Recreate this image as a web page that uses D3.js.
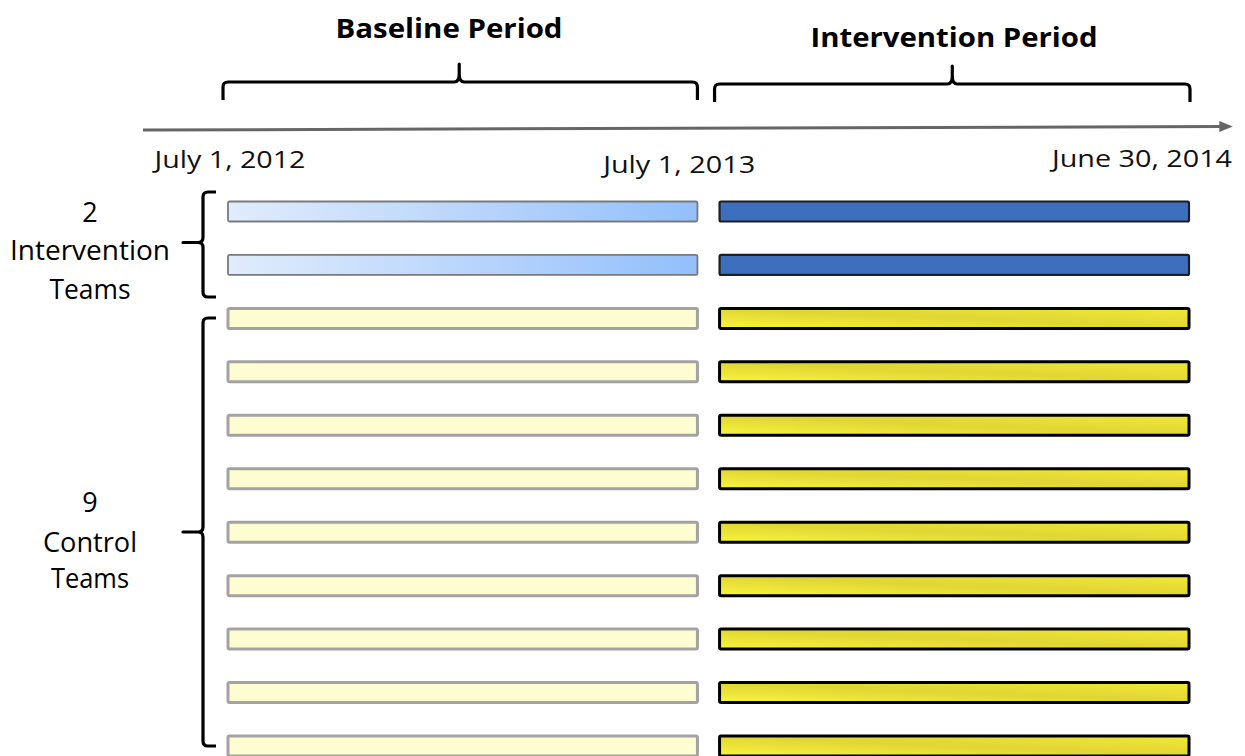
<!DOCTYPE html>
<html><head><meta charset="utf-8">
<script src="https://cdn.jsdelivr.net/npm/d3@7"></script>
<style>html,body{margin:0;padding:0;background:#fff;overflow:hidden}</style>
</head><body>
<svg id="chart" width="1245" height="756"></svg>
<script>
// ---- data ----
const periods = ["Baseline Period", "Intervention Period"];
const periodStart = ["2012-07-01", "2013-07-01"];
const periodEnd = ["2013-06-30", "2014-06-30"];
const tickDates = ["2012-07-01", "2013-07-01", "2014-06-30"];
const tickLabels = ["July 1, 2012", "July 1, 2013", "June 30, 2014"];
const teams = ["I1","I2","C1","C2","C3","C4","C5","C6","C7","C8","C9"];
const teamGroup = ["intervention","intervention","control","control","control","control","control","control","control","control","control"];
const groupNames = ["intervention", "control"];
const groupLabels = [["2","Intervention","Teams"], ["9","Control","Teams"]];

// ---- layout constants ----
const svg = d3.select("#chart");
const parse = d3.utcParse("%Y-%m-%d");
const x = d3.scaleBand().domain(periods).range([228, 1189]).paddingInner(0.045);
const t = d3.scaleUtc().domain([parse(tickDates[0]), parse(tickDates[2])]).range([228, 1189]);
const y = d3.scalePoint().domain(teams).range([211.5, 746]);
const barH = 20;

// ---- gradients ----
const defs = svg.append("defs");
const gBlue = defs.append("linearGradient").attr("id","gBlue").attr("x1","0").attr("x2","1").attr("y1","0").attr("y2","0");
gBlue.append("stop").attr("offset","0").attr("stop-color","#e1ecfc");
gBlue.append("stop").attr("offset","1").attr("stop-color","#93bffb");
const gYel = defs.append("linearGradient").attr("id","gYel").attr("x1","0").attr("x2","1").attr("y1","1").attr("y2","0");
gYel.append("stop").attr("offset","0").attr("stop-color","#f8f43c");
gYel.append("stop").attr("offset","0.5").attr("stop-color","#e0d634");
gYel.append("stop").attr("offset","1").attr("stop-color","#f1e839");
defs.append("marker").attr("id","arrow").attr("viewBox","0 0 10 10").attr("refX","2").attr("refY","5")
  .attr("markerWidth","4.5").attr("markerHeight","4.5").attr("orient","auto").attr("markerUnits","strokeWidth")
  .append("path").attr("d","M0,1 L10,5 L0,9 Z").attr("fill","#666");

// ---- axis arrow ----
svg.append("line").attr("x1",143).attr("y1",130).attr("x2",1222).attr("y2",126.5)
  .attr("stroke","#666").attr("stroke-width",3).attr("marker-end","url(#arrow)");

// ---- tick labels ----
const tickDx = [2, -30, -47];
const tickBase = [168, 173, 167];
const tickW = [151, 152, 180];
svg.selectAll("text.tick").data(tickLabels).join("text").attr("class","tick")
  .attr("x",(d,i)=>t(parse(tickDates[i]))+tickDx[i]).attr("y",(d,i)=>tickBase[i])
  .attr("text-anchor","middle").attr("font-family","Open Sans").attr("font-size",24)
  .attr("textLength",(d,i)=>tickW[i]).attr("lengthAdjust","spacingAndGlyphs")
  .attr("fill","#111").text(d=>d);

// ---- period braces and titles ----
const braceY = [82, 84];
const titleY = [38, 47];
const titleW = [227, 287];
const titleX = [449, 954];
periods.forEach((p,i)=>{
  const x0 = x(p) - 5, x1 = x(p) + x.bandwidth() + (i===1 ? 1 : 0);
  const xm = (x0 + x1) / 2 - (i===0 ? 1 : 0);
  const by = braceY[i];
  const r = 5;
  const path = `M${x0},${by+18} L${x0},${by+r} Q${x0},${by} ${x0+r},${by} L${xm-5},${by} Q${xm},${by} ${xm},${by-8} L${xm},${by-18} L${xm},${by-8} Q${xm},${by} ${xm+5},${by} L${x1-r},${by} Q${x1},${by} ${x1},${by+r} L${x1},${by+18}`;
  svg.append("path").attr("d",path).attr("fill","none").attr("stroke","#000").attr("stroke-width",3.2).attr("stroke-linejoin","round");
  svg.append("text").attr("x",titleX[i]).attr("y",titleY[i]).attr("text-anchor","middle")
    .attr("font-family","Open Sans").attr("font-weight","bold").attr("font-size",26)
    .attr("textLength",titleW[i]).attr("lengthAdjust","spacingAndGlyphs")
    .attr("fill","#000").text(p);
});

// ---- bars ----
const styleFor = (g, p) => {
  if (g === "intervention" && p === periods[0]) return {fill:"url(#gBlue)", stroke:"#7a7a7a", sw:1.8};
  if (g === "intervention") return {fill:"#3e6fbe", stroke:"#1e1e1e", sw:2.2};
  if (p === periods[0]) return {fill:"#fefdd2", stroke:"#a3a3a3", sw:3};
  return {fill:"url(#gYel)", stroke:"#000", sw:3};
};
const cells = [];
teams.forEach((tm,i)=>periods.forEach(p=>cells.push({team:tm, group:teamGroup[i], period:p})));
svg.selectAll("rect.bar").data(cells).join("rect").attr("class","bar")
  .attr("x",d=>x(d.period)).attr("width",x.bandwidth())
  .attr("y",d=>y(d.team)-barH/2).attr("height",barH)
  .attr("fill",d=>styleFor(d.group,d.period).fill)
  .attr("stroke",d=>styleFor(d.group,d.period).stroke)
  .attr("stroke-width",d=>styleFor(d.group,d.period).sw)
  .attr("rx",1.5);

// ---- group braces and labels ----
const groupTop = [192, 318];
const groupBot = [297, 746];
const tipShift = [-2, 0];
const labelBase = [[222, 260, 299], [512, 552, 588]];
const labelW = [[null, 160, 81], [null, 94, 78]];
groupNames.forEach((g,gi)=>{
  const top = groupTop[gi], bot = groupBot[gi];
  const mid = (top + bot) / 2 + tipShift[gi];
  const xv = 203, xr = 216, xt = 183, r = 5;
  const path = `M${xr},${top} L${xv+r},${top} Q${xv},${top} ${xv},${top+r} L${xv},${mid-5} Q${xv},${mid} ${xv-5},${mid} L${xt},${mid} L${xv-5},${mid} Q${xv},${mid} ${xv},${mid+5} L${xv},${bot-r} Q${xv},${bot} ${xv+r},${bot} L${xr},${bot}`;
  svg.append("path").attr("d",path).attr("fill","none").attr("stroke","#000").attr("stroke-width",3.2).attr("stroke-linejoin","round");
  groupLabels[gi].forEach((ln,li)=>{
    const tx = svg.append("text").attr("x",90).attr("y",labelBase[gi][li]).attr("text-anchor","middle")
      .attr("font-family","Open Sans").attr("font-size",27).attr("fill","#000").text(ln);
    if (labelW[gi][li]) tx.attr("textLength",labelW[gi][li]).attr("lengthAdjust","spacingAndGlyphs");
  });
});
</script>
</body></html>
